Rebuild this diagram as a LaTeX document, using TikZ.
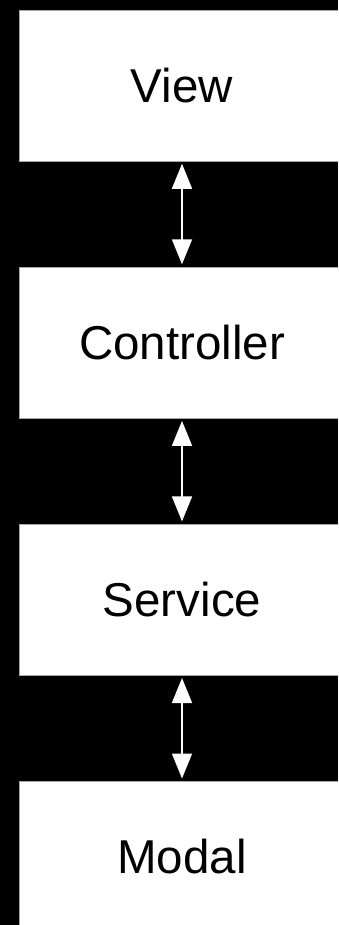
\documentclass[tikz,border=0pt]{standalone}
\usepackage{fontspec}
\setmainfont{Liberation Sans}
\usetikzlibrary{positioning,arrows.meta}

\begin{document}
\begin{tikzpicture}[x=1pt,y=1pt,
        layer/.style={rectangle,draw=gray!70,line width=0.6pt,fill=white,minimum width=326pt,minimum height=151pt,inner sep=0pt,font=\fontsize{47.5}{57}\selectfont},
        link/.style={draw=white,line width=1.6pt,{Triangle[width=20pt,length=25pt]}-{Triangle[width=20pt,length=25pt]},shorten <=2.5pt,shorten >=2.5pt}]
        \useasboundingbox (0,0) rectangle (338,-925);
        \fill[black] (0,0) rectangle (338,-925);
        \clip (0,0) rectangle (338,-925);

        \node[layer] (view) at (182,-85.5) {View};
        \node[layer] (controller) [below=105.5pt of view] {Controller};
        \node[layer] (service) [below=105.5pt of controller] {Service};
        \node[layer] (modal) [below=105.5pt of service] {Modal};

        \draw[link] (view.south) -- (controller.north);
        \draw[link] (controller.south) -- (service.north);
        \draw[link] (service.south) -- (modal.north);
    \end{tikzpicture}
\end{document}
